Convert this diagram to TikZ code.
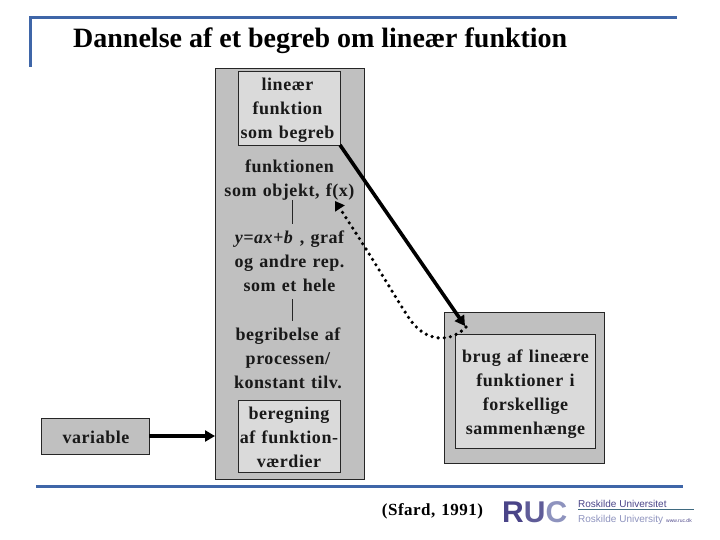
\documentclass[tikz,border=0pt]{standalone}
\usepackage{fontspec}
\setmainfont{Liberation Serif}
\setsansfont{Liberation Sans}
\newfontfamily\lblfont[LetterSpace=3,WordSpace=1.25]{Liberation Serif}
\usetikzlibrary{arrows.meta}
\definecolor{rulecol}{HTML}{3F66A8}
\definecolor{outergray}{HTML}{C0C0C0}
\definecolor{innergray}{HTML}{DADADA}
\definecolor{rucdark}{HTML}{4A4488}
\definecolor{rucmid}{HTML}{5F5C98}
\definecolor{ruclight}{HTML}{8E93BE}
\definecolor{rucline}{HTML}{3F6A80}
\tikzset{
  rulebar/.style={draw=rulecol,line width=3pt},
  outerbox/.style={draw=black!85,fill=outergray,line width=.9pt,inner sep=0pt,outer sep=0pt},
  innerbox/.style={draw=black!85,fill=innergray,line width=.9pt,inner sep=0pt,outer sep=0pt},
  lbl/.style={font=\lblfont\fontsize{18}{24}\selectfont\bfseries,align=center,inner sep=0pt,outer sep=0pt,text=black!90},
  thinlink/.style={draw=black!85,line width=.8pt},
  bigarrow/.style={draw=black,line width=3.6pt,-{Triangle[length=10pt,width=11pt]}},
  dotarrow/.style={draw=black,line width=3.6pt,line cap=round,dash pattern=on 0pt off 6.2pt,-{Triangle[length=9pt,width=11pt]}}
}
\begin{document}
\begin{tikzpicture}[x=1pt,y=-1pt]
\useasboundingbox (0,0) rectangle (720,540);
% frame bars
\coordinate (tl) at (30,18);
\draw[rulebar] (677,18) -- (tl) -- (30,67);
\draw[rulebar] (36,486.5) -- (683,486.5);
\node[anchor=base west,font=\fontsize{28}{30}\selectfont\bfseries,inner sep=0pt] (title) at (73,48) {Dannelse af et begreb om lineær funktion};
% boxes
\node[outerbox,minimum width=149pt,minimum height=411pt] (main) at (289.5,273.5) {};
\node[innerbox,minimum width=102pt,minimum height=74pt] (begreb) at (289,108) {};
\node[lbl] (begrebt) at (287.5,110.5) {lineær\\funktion\\som begreb};
\node[lbl,minimum height=40pt] (objekt) at (289.5,180) {funktionen\\som objekt, f(x)};
\node[lbl,minimum height=75pt] (graf) at (289.5,261.5) {\textit{y=ax+b} , graf\\og andre rep.\\som et hele};
\node[lbl,minimum height=74pt] (proces) at (288,358) {begribelse af\\processen/\\konstant tilv.};
\node[innerbox,minimum width=102pt,minimum height=72pt] (beregn) at (289,436) {};
\node[lbl] (beregnt) at (289,437.5) {beregning\\af funktion-\\værdier};
\node[innerbox,draw=black!85,fill=outergray,minimum width=108pt,minimum height=36pt] (variable) at (95,436) {};
\node[lbl] (variablet) at (96,437) {variable};
\node[outerbox,minimum width=160pt,minimum height=151pt] (brugo) at (524,387.5) {};
\node[innerbox,minimum width=140pt,minimum height=114pt] (brug) at (525,391) {};
\node[lbl] (brugt) at (525.5,394) {brug af lineære\\funktioner i\\forskellige\\sammenhænge};
% connectors
\draw[thinlink] (objekt.south -| 292.5,0) -- (graf.north -| 292.5,0);
\draw[thinlink] (graf.south -| 292.5,0) -- (proces.north -| 292.5,0);
\draw[bigarrow] (variable.east) -- (variable.east -| main.west);
\coordinate (bruganchor) at (465,326);
\draw[bigarrow] (begreb.south east) -- (bruganchor);
\coordinate (fxtip) at (335,201);
\coordinate (dotstart) at (466,327);
\draw[dotarrow] (dotstart) .. controls (452,342) and (425,345) .. (407,315) .. controls (392,292) and (377,265) .. (fxtip);
% citation and logo
\node[anchor=base,font=\lblfont\fontsize{17}{18}\selectfont\bfseries,inner sep=0pt] (sfard) at (432.5,515) {(Sfard, 1991)};
\node[anchor=base west,font=\sffamily\bfseries\fontsize{30}{30}\selectfont,inner sep=0pt] (ruc) at (502,522) {\textcolor{rucdark}{R}\textcolor{rucmid}{U}\textcolor{ruclight}{C}};
\node[anchor=base west,font=\sffamily\fontsize{10}{10}\selectfont,text=rucdark,inner sep=0pt] (dk) at (578,507) {Roskilde Universitet};
\draw[draw=rucline,line width=1pt] (578,509.5) -- (694,509.5);
\node[anchor=base west,font=\sffamily\fontsize{10}{10}\selectfont,text=ruclight,inner sep=0pt] (uk) at (578,522) {Roskilde University};
\node[anchor=base west,font=\sffamily\fontsize{5}{6}\selectfont,text=rucdark,inner sep=0pt] (www) at (666,522) {www.ruc.dk};
\end{tikzpicture}
\end{document}
